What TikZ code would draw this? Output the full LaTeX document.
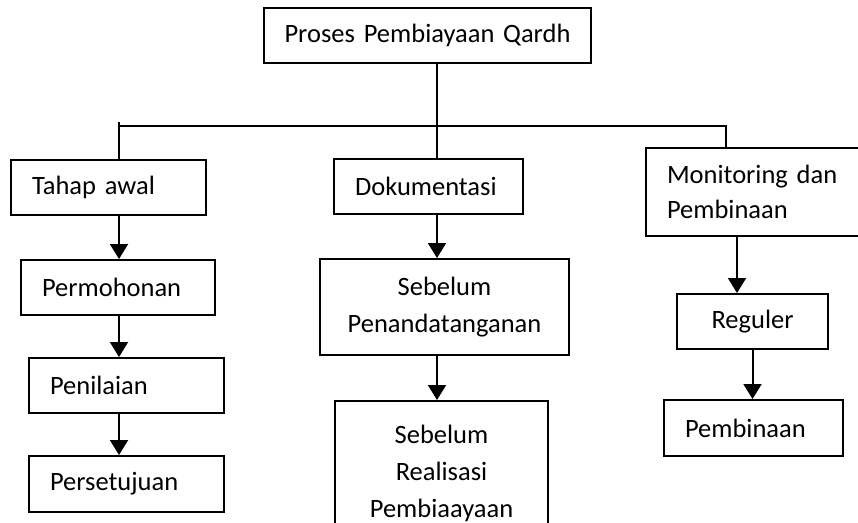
\documentclass[tikz,border=0pt]{standalone}
\usepackage{fontspec}
\setmainfont{Carlito}
\usepackage{tikz}
\usetikzlibrary{arrows.meta, positioning, calc}

\begin{document}
\begin{tikzpicture}[x=1pt,y=-1pt,line width=2pt,
  >={Triangle[width=18pt,length=15pt]},
  kotak/.style={draw,anchor=north west,inner xsep=21pt,inner ysep=4pt,align=left,
    font=\fontsize{26.5}{37}\selectfont},
  tengah/.style={kotak,align=center}]
\clip (0,0) rectangle (858,522);
\node[tengah,inner xsep=8pt,text width=311pt,minimum height=55pt] (proses) at (263,7) {Proses Pembiayaan Qardh};
\node[kotak,text width=153pt,minimum height=55pt] (tahap)  at (10,159)  {Tahap awal};
\node[kotak,text width=152pt,minimum height=55pt] (mohon)  at (20,259)  {Permohonan};
\node[kotak,text width=153pt,minimum height=55pt] (nilai)  at (28,357)  {Penilaian};
\node[kotak,text width=153pt,minimum height=56pt] (setuju) at (28,455)  {Persetujuan};
\node[kotak,text width=147pt,minimum height=55pt] (dok)    at (333,158) {Dokumentasi};
\node[tengah,text width=207pt,minimum height=96pt] (ttd)   at (319,258) {Sebelum\\Penandatanganan};
\node[tengah,text width=171pt,minimum height=144pt] (real) at (334,400) {Sebelum\\Realisasi\\Pembiaayaan};
\node[kotak,text width=198pt,minimum height=88pt,font=\fontsize{26.5}{35}\selectfont] (mon) at (645,147) {Monitoring dan\\Pembinaan};
\node[tengah,text width=109pt,minimum height=55pt] (reg)   at (676,293) {Reguler};
\node[kotak,text width=137pt,minimum height=56pt] (bina)   at (663,399) {Pembinaan};
\coordinate (bus) at (437,126);
\coordinate (ka) at (119,122);
\coordinate (kb) at (726,126);
\coordinate (kc) at (737,235);
\draw (proses.south -| bus) -- (bus);
\draw (ka) -- (ka |- tahap.north);
\draw (ka |- bus) -- (kb) -- (kb |- mon.north);
\draw (bus) -- (bus |- dok.north);
\draw[->] (tahap.south -| ka) -- (mohon.north -| ka);
\draw[->] (mohon.south -| ka) -- (nilai.north -| ka);
\draw[->] (nilai.south -| ka) -- (setuju.north -| ka);
\draw[->] (dok.south -| bus) -- (ttd.north -| bus);
\draw[->] (ttd.south -| bus) -- (real.north -| bus);
\draw[->] (kc) -- (kc |- reg.north);
\draw[->] (reg.south) -- (reg.south |- bina.north);
\end{tikzpicture}
\end{document}
